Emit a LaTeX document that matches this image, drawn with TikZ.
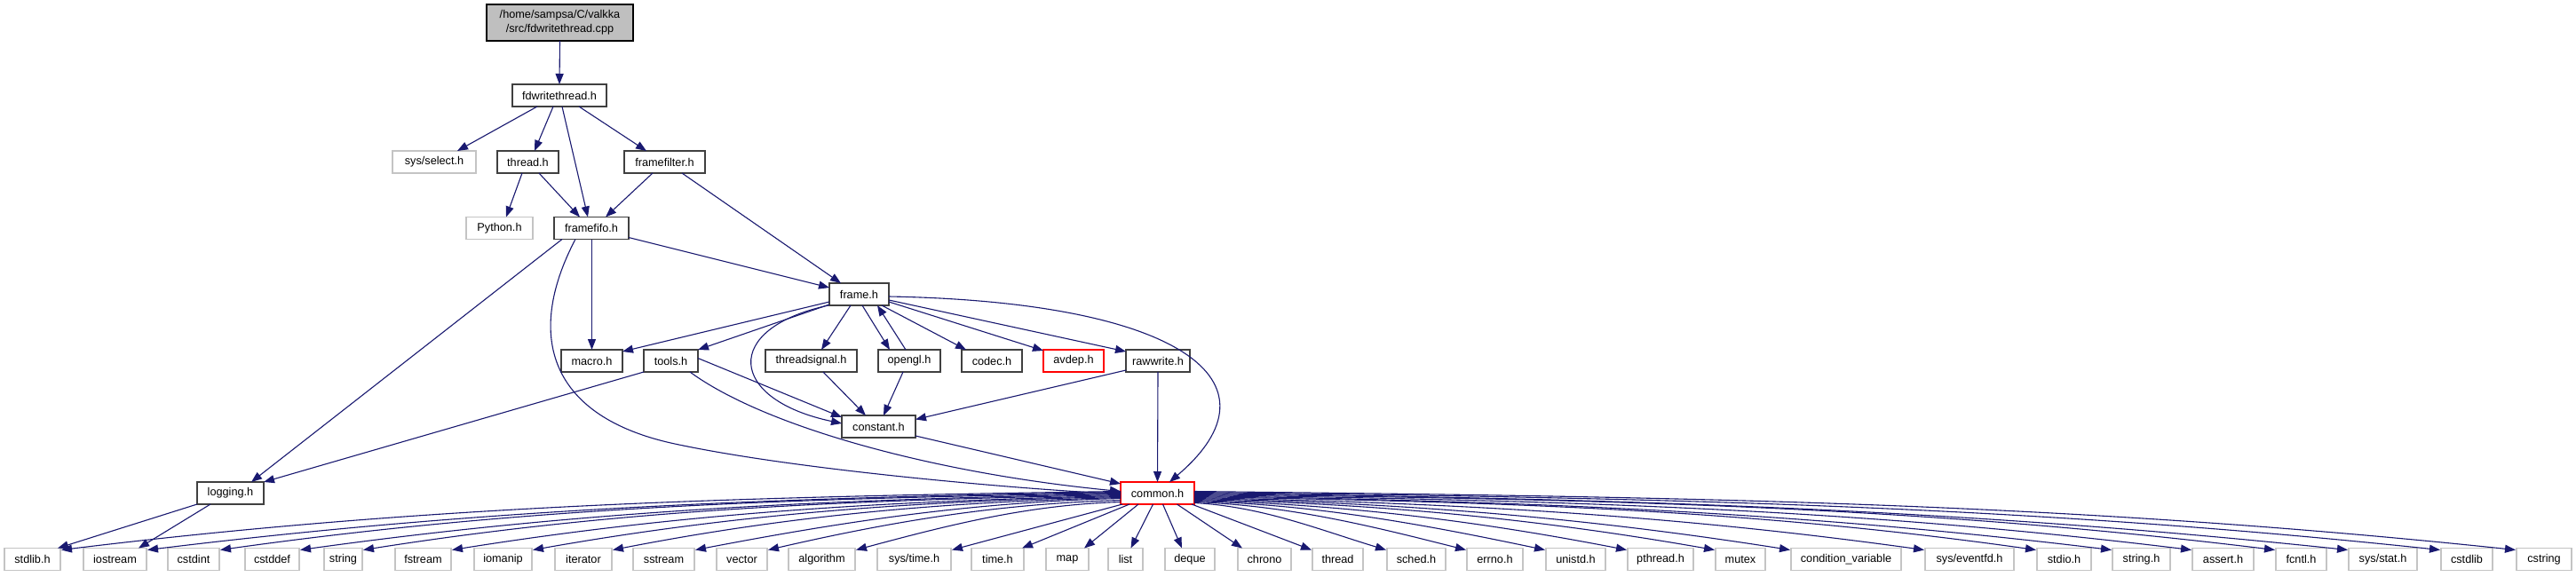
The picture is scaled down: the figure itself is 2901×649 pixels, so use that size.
\documentclass[tikz,border=0pt]{standalone}
\usepackage{fontspec}
\setmainfont{Liberation Sans}
\usetikzlibrary{arrows.meta}
\definecolor{edgecol}{HTML}{191970}
\definecolor{bordercol}{HTML}{404040}
\definecolor{greycol}{HTML}{C4C4C4}
\definecolor{redcol}{HTML}{FF0000}
\definecolor{rootfill}{HTML}{BFBFBF}
\newcommand\nodefont{\fontsize{12.7}{16}\selectfont}
\tikzset{
  nd/.style={draw=bordercol, line width=1.2pt, fill=white, inner sep=0pt, outer sep=0pt,
             minimum height=25pt, font=\nodefont, text=black},
  ndgrey/.style={nd, draw=greycol},
  ndred/.style={nd, draw=redcol},
  edge/.style={draw=edgecol, line width=1.1pt, -{Triangle[length=12pt,width=9pt]}},
}
\begin{document}
\begin{tikzpicture}[x=1pt,y=-1pt]
\fill[white] (0,0) rectangle (2901,649);
\useasboundingbox (0,0) rectangle (2901,649);

% upper nodes
\node[nd, fill=rootfill, draw=black, minimum width=165pt, minimum height=41pt, align=center] (root) at (630.5,25.5) {/home/sampsa/C/valkka\\/src/fdwritethread.cpp};
\node[nd, minimum width=106pt] (fdw) at (630,107.5) {fdwritethread.h};
\node[ndgrey, minimum width=94pt] (sysselect) at (489,182.5) {sys/select.h};
\node[nd, minimum width=69pt] (thread) at (594.5,182.5) {thread.h};
\node[nd, minimum width=91pt] (framefilter) at (748.5,182.5) {framefilter.h};
\node[ndgrey, minimum width=75pt] (python) at (562.5,257) {Python.h};
\node[nd, minimum width=84pt] (framefifo) at (666,257) {framefifo.h};
\node[nd, minimum width=67pt] (frame) at (967.5,331.5) {frame.h};
\node[nd, minimum width=69pt] (macro) at (666.5,406.5) {macro.h};
\node[nd, minimum width=61pt] (tools) at (755.5,406.5) {tools.h};
\node[nd, minimum width=103pt] (threadsignal) at (913.5,406.5) {threadsignal.h};
\node[nd, minimum width=70pt] (opengl) at (1024,406.5) {opengl.h};
\node[nd, minimum width=68pt] (codec) at (1117,406.5) {codec.h};
\node[ndred, minimum width=68pt] (avdep) at (1209,406.5) {avdep.h};
\node[nd, minimum width=72pt] (rawwrite) at (1304,406.5) {rawwrite.h};
\node[nd, minimum width=83pt] (constant) at (989.5,480.5) {constant.h};
\node[ndred, minimum width=83pt] (common) at (1303.5,555.5) {common.h};
\node[nd, minimum width=75pt] (logging) at (259.5,555.5) {logging.h};

% bottom row
\node[ndgrey, minimum width=63pt] (stdlib) at (36.5,630) {stdlib.h};
\node[ndgrey, minimum width=71pt] (iostream) at (129.5,630) {iostream};
\node[ndgrey, minimum width=58pt] (cstdint) at (218,630) {cstdint};
\node[ndgrey, minimum width=61pt] (cstddef) at (306.5,630) {cstddef};
\node[ndgrey, minimum width=43pt] (string) at (386.5,630) {string};
\node[ndgrey, minimum width=63pt] (fstream) at (476.5,630) {fstream};
\node[ndgrey, minimum width=65pt] (iomanip) at (566.5,630) {iomanip};
\node[ndgrey, minimum width=64pt] (iterator) at (657,630) {iterator};
\node[ndgrey, minimum width=69pt] (sstream) at (747.5,630) {sstream};
\node[ndgrey, minimum width=57pt] (vector) at (835.5,630) {vector};
\node[ndgrey, minimum width=75pt] (algorithm) at (925.5,630) {algorithm};
\node[ndgrey, minimum width=83pt] (systime) at (1029.5,630) {sys/time.h};
\node[ndgrey, minimum width=59pt] (timeh) at (1123.5,630) {time.h};
\node[ndgrey, minimum width=48pt] (map) at (1202,630) {map};
\node[ndgrey, minimum width=39pt] (list) at (1267.5,630) {list};
\node[ndgrey, minimum width=56pt] (deque) at (1340,630) {deque};
\node[ndgrey, minimum width=60pt] (chrono) at (1424,630) {chrono};
\node[ndgrey, minimum width=57pt] (threadstd) at (1506.5,630) {thread};
\node[ndgrey, minimum width=66pt] (sched) at (1595,630) {sched.h};
\node[ndgrey, minimum width=63pt] (errno) at (1683.5,630) {errno.h};
\node[ndgrey, minimum width=67pt] (unistd) at (1774.5,630) {unistd.h};
\node[ndgrey, minimum width=74pt] (pthread) at (1870,630) {pthread.h};
\node[ndgrey, minimum width=56pt] (mutex) at (1960,630) {mutex};
\node[ndgrey, minimum width=124pt] (condvar) at (2079,630) {condition\_variable};
\node[ndgrey, minimum width=100pt] (eventfd) at (2218,630) {sys/eventfd.h};
\node[ndgrey, minimum width=61pt] (stdio) at (2324.5,630) {stdio.h};
\node[ndgrey, minimum width=65pt] (stringh) at (2411.5,630) {string.h};
\node[ndgrey, minimum width=69pt] (assert) at (2503.5,630) {assert.h};
\node[ndgrey, minimum width=57pt] (fcntl) at (2591.5,630) {fcntl.h};
\node[ndgrey, minimum width=77pt] (sysstat) at (2683.5,630) {sys/stat.h};
\node[ndgrey, minimum width=58pt] (cstdlib) at (2778,630) {cstdlib};
\node[ndgrey, minimum width=62pt] (cstring) at (2865,630) {cstring};

% upper edges
\draw[edge] (root.south) -- (fdw.north);
\draw[edge] ([xshift=-25pt]fdw.south) -- ([xshift=26pt]sysselect.north);
\draw[edge] ([xshift=-7pt]fdw.south) -- ([xshift=7.5pt]thread.north);
\draw[edge] ([xshift=3pt]fdw.south) -- ([xshift=-4pt]framefifo.north);
\draw[edge] ([xshift=22pt]fdw.south) -- ([xshift=-20.5pt]framefilter.north);
\draw[edge] ([xshift=-6.5pt]thread.south) -- ([xshift=7.5pt]python.north);
\draw[edge] ([xshift=12.5pt]thread.south) -- ([xshift=-13pt]framefifo.north);
\draw[edge] ([xshift=-13.5pt]framefilter.south) -- ([xshift=16pt]framefifo.north);
\draw[edge] ([xshift=19.5pt]framefilter.south) -- ([xshift=-20.5pt]frame.north);
\draw[edge] ([yshift=2pt]framefifo.south east) -- ([yshift=-5pt]frame.north west);
\draw[edge] ([xshift=0.5pt]framefifo.south) -- (macro.north);
\draw[edge] ([xshift=-33pt]framefifo.south) -- ([xshift=23.5pt]logging.north);
\draw[edge] ([xshift=-18pt]framefifo.south) .. controls (590,380) and (620,470) .. (760,500)
            .. controls (900,530) and (1150,551) .. ([yshift=-1pt]common.west);

\draw[edge] ([yshift=4pt]frame.south west) -- ([yshift=-2pt]macro.north east);
\draw[edge] ([yshift=1pt]frame.south west) -- (tools.north east);
\draw[edge] ([xshift=-1pt]frame.south west) .. controls (812,370) and (820,450) .. ([yshift=3.5pt]constant.west);
\draw[edge] ([xshift=-9.5pt]frame.south) -- ([xshift=11.5pt]threadsignal.north);
\draw[edge] ([xshift=3.5pt]frame.south) -- ([xshift=-22pt]opengl.north);
\draw[edge] ([xshift=-4pt]opengl.north) -- ([xshift=20.5pt]frame.south);
\draw[edge] ([xshift=-8pt]frame.south east) -- ([xshift=5pt]codec.north west);
\draw[edge] ([yshift=4pt]frame.south east) -- ([yshift=-1pt]avdep.north west);
\draw[edge] ([yshift=-6.5pt]frame.east) -- ([yshift=-2pt]rawwrite.north west);
\draw[edge] ([yshift=-2.5pt]frame.east) .. controls (1330,340) and (1450,430) .. ([xshift=13.5pt]common.north);

\draw[edge] (tools.south west) -- (logging.north east);
\draw[edge] ([yshift=3pt]tools.east) -- ([yshift=-2pt]constant.north west);
\draw[edge] ([xshift=21.5pt]tools.south) .. controls (860,480) and (1050,533) .. ([yshift=2pt]common.west);
\draw[edge] ([xshift=13.5pt]threadsignal.south) -- ([xshift=-14.5pt]constant.north);
\draw[edge] ([xshift=-7pt]opengl.south) -- ([xshift=5.5pt]constant.north);
\draw[edge] ([yshift=2pt]rawwrite.south west) -- ([yshift=8pt]constant.east);
\draw[edge] (rawwrite.south) -- (common.north);
\draw[edge] ([yshift=2pt]constant.south east) -- ([yshift=-2pt]common.north west);

\draw[edge] (logging.south west) -- ([xshift=-3pt]stdlib.north east);
\draw[edge] ([xshift=-22.5pt]logging.south) -- ([xshift=-9pt]iostream.north east);

% common.h -> left bottom nodes
\draw[edge] ([yshift=2pt]common.west) .. controls +(-417,6) and +(417,-51) .. ([xshift=1pt,yshift=-2pt]stdlib.north east);
\draw[edge] ([yshift=1pt]common.west) .. controls +(-383,6) and +(383,-47) .. ([xshift=1pt,yshift=-2pt]iostream.north east);
\draw[edge] ([yshift=0pt]common.west) .. controls +(-355,6) and +(355,-50) .. ([xshift=1pt,yshift=-2pt]cstdint.north east);
\draw[edge] ([yshift=-1pt]common.west) .. controls +(-323,6) and +(323,-45) .. ([xshift=1pt,yshift=-2pt]cstddef.north east);
\draw[edge] ([yshift=-2pt]common.west) .. controls +(-298,6) and +(298,-47) .. ([xshift=1pt,yshift=-2pt]string.north east);
\draw[edge] ([yshift=-3pt]common.west) .. controls +(-263,6) and +(263,-42) .. ([xshift=1pt,yshift=-2pt]fstream.north east);
\draw[edge] ([yshift=-4pt]common.west) .. controls +(-231,5) and +(231,-41) .. ([xshift=1pt,yshift=-2pt]iomanip.north east);
\draw[edge] ([yshift=-5pt]common.west) .. controls +(-200,5) and +(200,-39) .. ([xshift=1pt,yshift=-2pt]iterator.north east);
\draw[edge] ([yshift=-6pt]common.west) .. controls +(-167,4) and +(167,-32) .. ([xshift=1pt,yshift=-2pt]sstream.north east);
\draw[edge] ([yshift=-8pt]common.west) .. controls +(-139,4) and +(139,-32) .. ([xshift=1pt,yshift=-2pt]vector.north east);
\draw[edge] ([yshift=-10pt]common.west) .. controls +(-104,3) and +(104,-28) .. ([xshift=1pt,yshift=-2pt]algorithm.north east);
\draw[edge] ([xshift=2pt]common.south west) -- ([xshift=1pt,yshift=-2pt]systime.north east);
\draw[edge] ([xshift=10pt]common.south west) -- ([xshift=-2pt]timeh.north east);
\draw[edge] ([xshift=20pt]common.south west) -- ([xshift=-5pt]map.north east);
\draw[edge] ([xshift=-5pt]common.south) -- ([xshift=6pt]list.north);
\draw[edge] ([xshift=6pt]common.south) -- ([xshift=-9pt]deque.north);
\draw[edge] ([xshift=22pt]common.south) -- ([xshift=5pt]chrono.north west);
\draw[edge] ([xshift=-3pt]common.south east) -- ([xshift=-1pt,yshift=-2pt]threadstd.north west);

% common.h -> right bottom nodes
\draw[edge] ([yshift=-11pt]common.east) .. controls +(76,4) and +(-76,-23) .. ([xshift=-1pt,yshift=-2pt]sched.north west);
\draw[edge] ([yshift=-10pt]common.east) .. controls +(107,4) and +(-107,-27) .. ([xshift=-1pt,yshift=-2pt]errno.north west);
\draw[edge] ([yshift=-9pt]common.east) .. controls +(138,4) and +(-138,-29) .. ([xshift=-1pt,yshift=-2pt]unistd.north west);
\draw[edge] ([yshift=-8pt]common.east) .. controls +(170,5) and +(-170,-33) .. ([xshift=-1pt,yshift=-2pt]pthread.north west);
\draw[edge] ([yshift=-7pt]common.east) .. controls +(205,5) and +(-205,-36) .. ([xshift=-1pt,yshift=-2pt]mutex.north west);
\draw[edge] ([yshift=-6pt]common.east) .. controls +(235,5) and +(-235,-37) .. ([xshift=-1pt,yshift=-2pt]condvar.north west);
\draw[edge] ([yshift=-5pt]common.east) .. controls +(288,6) and +(-288,-40) .. ([xshift=-1pt,yshift=-2pt]eventfd.north west);
\draw[edge] ([yshift=-4pt]common.east) .. controls +(332,6) and +(-332,-47) .. ([xshift=-1pt,yshift=-2pt]stdio.north west);
\draw[edge] ([yshift=-3pt]common.east) .. controls +(362,6) and +(-362,-44) .. ([xshift=-1pt,yshift=-2pt]stringh.north west);
\draw[edge] ([yshift=-2pt]common.east) .. controls +(393,6) and +(-393,-48) .. ([xshift=-1pt,yshift=-2pt]assert.north west);
\draw[edge] ([yshift=-1pt]common.east) .. controls +(426,6) and +(-426,-52) .. ([xshift=-1pt,yshift=-2pt]fcntl.north west);
\draw[edge] ([yshift=0pt]common.east) .. controls +(455,6) and +(-455,-48) .. ([xshift=-1pt,yshift=-2pt]sysstat.north west);
\draw[edge] ([yshift=1pt]common.east) .. controls +(491,6) and +(-491,-52) .. ([xshift=-1pt,yshift=-2pt]cstdlib.north west);
\draw[edge] ([yshift=2pt]common.east) .. controls +(521,6) and +(-521,-55) .. ([xshift=-1pt,yshift=-2pt]cstring.north west);
\end{tikzpicture}
\end{document}
